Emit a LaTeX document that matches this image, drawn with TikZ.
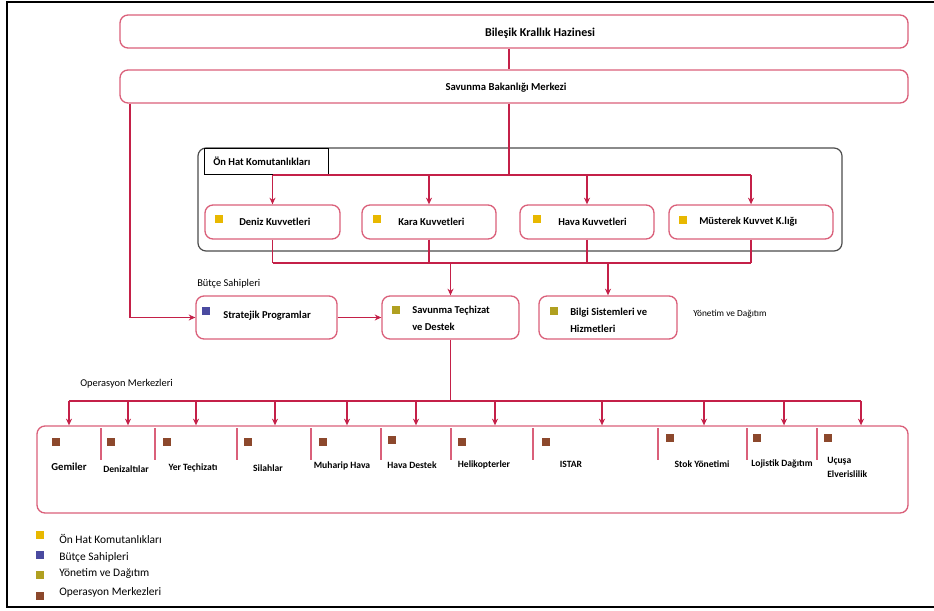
\documentclass[tikz,border=0pt]{standalone}
\usepackage{fontspec}
\setmainfont{Carlito}
\usetikzlibrary{arrows.meta,fit}
\definecolor{boxred}{RGB}{218,96,122}
\definecolor{linered}{RGB}{196,32,72}
\definecolor{onhat}{RGB}{232,184,0}
\definecolor{butce}{RGB}{74,74,160}
\definecolor{yonetim}{RGB}{176,160,32}
\definecolor{operasyon}{RGB}{140,72,44}
\begin{document}
\begin{tikzpicture}[x=0.75pt, y=-0.75pt,
    every node/.style={font=\fontsize{7.5}{9}\selectfont, inner sep=0pt},
    redbox/.style={draw=boxred, line width=1pt, rounded corners=6pt},
    conn/.style={draw=linered, line width=0.8pt},
    arr/.style={conn, -{Stealth[length=5pt,width=4.5pt]}},
    icon/.style={minimum size=6pt, inner sep=0pt},
    unit/.style={font=\bfseries\fontsize{7.9}{12.6}\selectfont, anchor=west, align=left},
    cell/.style={font=\bfseries\fontsize{7.2}{10.5}\selectfont},
    tag/.style={font=\fontsize{7.8}{9}\selectfont, anchor=west}]
    \useasboundingbox (0,0) rectangle (934,610);
    \draw[line width=1.6pt] (934,2) -- (7,2) -- (7,607) -- (934,607);

    % Hazine ve Bakanlik
    \node[redbox, fit={(120,15) (908,48)}] (hazine) {};
    \node[font=\bfseries\fontsize{9}{10}\selectfont] (hazinetxt) at (540,33) {Bileşik Krallık Hazinesi};
    \node[redbox, fit={(120,70) (908,103)}] (bakanlik) {};
    \node[font=\bfseries\fontsize{8}{9}\selectfont] (bakanliktxt) at (506,88) {Savunma Bakanlığı Merkezi};

    % On Hat Komutanliklari
    \node[draw=black!70, line width=0.9pt, rounded corners=6pt, fit={(198,148) (842,251)}] (onhatfrm) {};
    \node[draw, line width=0.6pt, fit={(204,148) (328,174)}] (onhatlbl) {};
    \node[unit] (onhattxt) at (213,161) {Ön Hat Komutanlıkları};

    \node[redbox, fit={(205,205) (340,239)}] (deniz) {};
    \node[redbox, fit={(362,205) (496,239)}] (kara) {};
    \node[redbox, fit={(520,205) (654,239)}] (hava) {};
    \node[redbox, fit={(669,205) (833,239)}] (musterek) {};
    \node[icon, fill=onhat] (denizico) at (219,219) {};
    \node[icon, fill=onhat] (karaico) at (377,219) {};
    \node[icon, fill=onhat] (havaico) at (537,219) {};
    \node[icon, fill=onhat] (musterekico) at (683,220) {};
    \node[unit] (deniztxt) at (239,222) {Deniz Kuvvetleri};
    \node[unit] (karatxt) at (398,222) {Kara Kuvvetleri};
    \node[unit] (havatxt) at (558,222) {Hava Kuvvetleri};
    \node[unit] (musterektxt) at (699,222) {Müsterek Kuvvet K.lığı};

    % ikinci sira
    \node[tag] (butcetag) at (197,284) {Bütçe Sahipleri};
    \node[redbox, fit={(196,296) (337,339)}] (strat) {};
    \node[redbox, fit={(382,296) (519,339)}] (techizat) {};
    \node[redbox, fit={(539,296) (677,339)}] (bilgi) {};
    \node[icon, fill=butce] (stratico) at (206,311) {};
    \node[icon, fill=yonetim] (techizatico) at (396,310) {};
    \node[icon, fill=yonetim] (bilgiico) at (554,311) {};
    \node[unit] (strattxt) at (223,316) {Stratejik Programlar};
    \node[unit] (techizattxt) at (412,318) {Savunma Teçhizat\\ve Destek};
    \node[unit] (bilgitxt) at (570,320) {Bilgi Sistemleri ve\\Hizmetleri};
    \node[tag, font=\fontsize{7}{8}\selectfont] (yonetimtag) at (693,314) {Yönetim ve Dağıtım};

    % baglantilar
    \coordinate (dagit) at (509,175);
    \coordinate (topla) at (509,263);
    \coordinate (sol) at (130,0);
    \draw[conn] (hazine.south -| dagit) -- (bakanlik.north -| dagit);
    \draw[conn] (bakanlik.south -| dagit) -- (dagit);
    \draw[conn] (deniz.north |- dagit) -- (musterek.north |- dagit);
    \draw[conn] (deniz.south |- topla) -- (musterek.south |- topla);
    \foreach \n in {deniz,kara,hava,musterek}{
        \draw[arr] (\n.north |- dagit) -- (\n.north);
        \draw[conn] (\n.south) -- (\n.south |- topla);
    }
    \draw[arr] (techizat.north |- topla) -- (techizat.north);
    \draw[arr] (bilgi.north |- topla) -- (bilgi.north);
    \draw[arr] (bakanlik.south -| sol) |- (strat.west);
    \draw[arr] (strat.east) -- (techizat.west);

    % Operasyon Merkezleri
    \node[tag] (opstag) at (80,384) {Operasyon Merkezleri};
    \node[redbox, fit={(37,426) (908,513)}] (ops) {};
    \coordinate (dal) at (0,401);
    \draw[conn] (techizat.south) -- (techizat.south |- dal);
    \draw[conn] (69,401) -- (861,401);
    \foreach \x/\n in {69/gem,128/dzl,196/yer,275/sil,347/muh,416/hds,495/hel,602/ist,704/stk,784/loj,861/ucs}{
        \coordinate (drop\n) at (\x,401);
        \draw[arr] (drop\n) -- (ops.north -| drop\n);
    }
    \foreach \x in {101,155,237,311,381,451,533,658,747,817}
        \draw[draw=boxred, line width=1pt] (\x,428) -- (\x,460);
    \foreach \x/\y/\n in {56/442/gem,111/442/dzl,167/442/yer,248/442/sil,323/442/muh,392/440/hds,462/442/hel,546/442/ist,670/438/stk,757/438/loj,828/438/ucs}
        \node[icon, fill=operasyon] (ico\n) at (\x,\y) {};
    \node[cell, font=\bfseries\fontsize{8}{9}\selectfont] (gemtxt) at (69,467) {Gemiler};
    \node[cell] (dzltxt) at (126,469) {Denizaltılar};
    \node[cell] (yertxt) at (193,468) {Yer Teçhizatı};
    \node[cell] (siltxt) at (268,468) {Silahlar};
    \node[cell] (muhtxt) at (342,466) {Muharip Hava};
    \node[cell] (hdstxt) at (412,465) {Hava Destek};
    \node[cell] (heltxt) at (484,465) {Helikopterler};
    \node[cell] (isttxt) at (571,464) {ISTAR};
    \node[cell] (stktxt) at (702,464) {Stok Yönetimi};
    \node[cell] (lojtxt) at (782,464) {Lojistik Dağıtım};
    \node[cell, anchor=north west, align=left] (ucstxt) at (827,457) {Uçuşa\\Elverislilik};

    % lejant
    \node[icon, fill=onhat] (lejonhat) at (40,535) {};
    \node[icon, fill=butce] (lejbutce) at (40,555) {};
    \node[icon, fill=yonetim] (lejyonetim) at (40,575) {};
    \node[icon, fill=operasyon] (lejops) at (40,596) {};
    \node[tag, font=\fontsize{8.6}{9}\selectfont] (lejonhattxt) at (59,539) {Ön Hat Komutanlıkları};
    \node[tag, font=\fontsize{8.6}{9}\selectfont] (lejbutcetxt) at (59,557) {Bütçe Sahipleri};
    \node[tag, font=\fontsize{8.6}{9}\selectfont] (lejyonetimtxt) at (59,574) {Yönetim ve Dağıtım};
    \node[tag, font=\fontsize{8.6}{9}\selectfont] (lejopstxt) at (59,592) {Operasyon Merkezleri};
\end{tikzpicture}
\end{document}
